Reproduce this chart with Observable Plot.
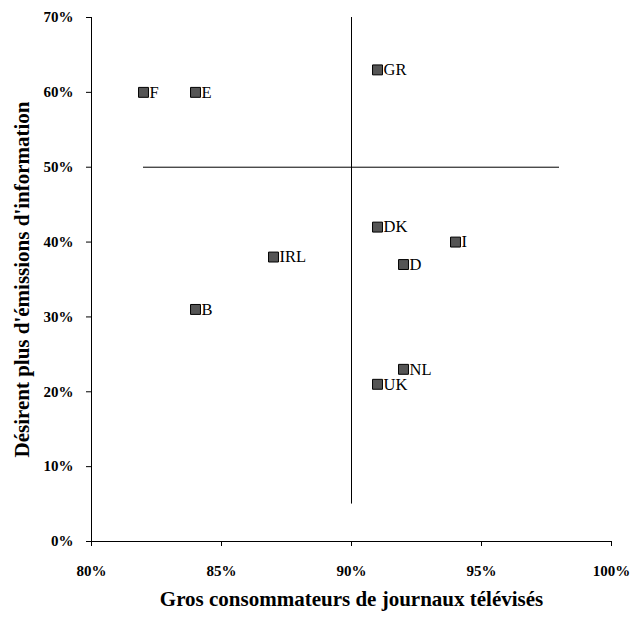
<!DOCTYPE html>
<html>
<head>
<meta charset="utf-8">
<script src="https://cdn.jsdelivr.net/npm/d3@7"></script>
<script src="https://cdn.jsdelivr.net/npm/@observablehq/plot@0.6"></script>
<style>
  html, body { margin: 0; padding: 0; background: #fff; }
</style>
</head>
<body>
<div id="chart"></div>
<script>
const countries = ["F", "E", "GR", "DK", "I", "IRL", "D", "B", "NL", "UK"];
const newsViewers = [82, 84, 91, 91, 94, 87, 92, 84, 92, 91];
const wantMoreInfo = [60, 60, 63, 42, 40, 38, 37, 31, 23, 21];
const xTicks = [80, 85, 90, 95, 100];
const yTicks = [0, 10, 20, 30, 40, 50, 60, 70];
const xTitle = "Gros consommateurs de journaux télévisés";
const yTitle = "Désirent plus d'émissions d'information";

const data = countries.map((c, i) => ({country: c, x: newsViewers[i], y: wantMoreInfo[i]}));

const chart = Plot.plot({
  width: 632,
  height: 621,
  marginLeft: 91,
  marginRight: 21,
  marginTop: 17,
  marginBottom: 80,
  style: {fontFamily: "'Liberation Serif', 'Times New Roman', serif", fontSize: "15px", background: "#fff", color: "#000"},
  x: {domain: [80, 100]},
  y: {domain: [0, 70]},
  marks: [
    Plot.axisX(xTicks, {tickSize: 5, tickPadding: 19, tickFormat: d => d + "%", fontWeight: "bold", fontSize: 15, label: null}),
    Plot.axisY(yTicks, {tickSize: 5, tickPadding: 13, tickFormat: d => d + "%", fontWeight: "bold", fontSize: 15, label: null}),
    Plot.ruleX([80], {stroke: "#000", strokeWidth: 1}),
    Plot.ruleY([0], {stroke: "#000", strokeWidth: 1}),
    Plot.ruleX([90], {y1: 5, y2: 70, stroke: "#000", strokeWidth: 1}),
    Plot.ruleY([50], {x1: 82, x2: 98, stroke: "#000", strokeWidth: 1}),
    Plot.dot(data, {x: "x", y: "y", symbol: "square", r: 5.6, fill: "#555", stroke: "#000", strokeWidth: 1}),
    Plot.text(data, {x: "x", y: "y", text: "country", dx: 6, textAnchor: "start", fontSize: 16.5, fill: "#000"}),
    Plot.text([xTitle], {frameAnchor: "bottom", dy: 64, textAnchor: "middle", fontSize: 21, fontWeight: "bold", fill: "#000"}),
    Plot.text([yTitle], {frameAnchor: "left", dx: -69, textAnchor: "middle", rotate: -90, fontSize: 21, fontWeight: "bold", fill: "#000"})
  ]
});
document.getElementById("chart").appendChild(chart);
</script>
</body>
</html>
